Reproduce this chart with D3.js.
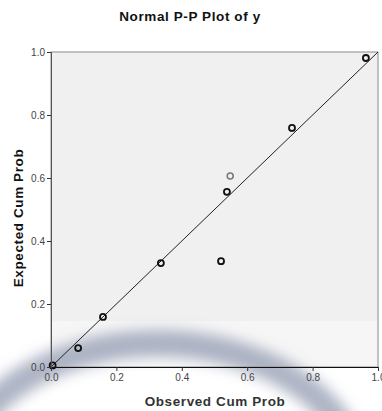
<!DOCTYPE html>
<html>
<head>
<meta charset="utf-8">
<script src="https://cdn.jsdelivr.net/npm/d3@7"></script>
<style>
  body { margin: 0; background: #fff; }
  text { font-family: "Liberation Sans", Arial, sans-serif; }
</style>
</head>
<body>
<div id="chart"></div>
<script>
// observed vs expected cumulative probabilities
var observed = [0.005, 0.083, 0.159, 0.336, 0.52, 0.538, 0.737, 0.963];
var expected = [0.005, 0.060, 0.159, 0.330, 0.336, 0.556, 0.759, 0.981];
// grey (highlighted) point
var greyObserved = [0.548];
var greyExpected = [0.606];
var tickValues = [0, 0.2, 0.4, 0.6, 0.8, 1.0];

var width = 382, height = 411;
var plotLeft = 51, plotRight = 378, plotTop = 52, plotBottom = 367;

var svg = d3.select('#chart').append('svg')
  .attr('width', width)
  .attr('height', height);

var defs = svg.append('defs');
defs.append('filter').attr('id', 'blur')
  .attr('x', '-20%').attr('y', '-20%').attr('width', '140%').attr('height', '140%')
  .append('feGaussianBlur').attr('stdDeviation', 7);

var x = d3.scaleLinear().domain([0, 1]).range([plotLeft, plotRight]);
var y = d3.scaleLinear().domain([0, 1]).range([plotBottom, plotTop]);

// plot background
svg.append('rect')
  .attr('x', plotLeft).attr('y', plotTop)
  .attr('width', plotRight - plotLeft).attr('height', plotBottom - plotTop)
  .attr('fill', '#f0f0f0');

// faint watermark swoosh from the source image
svg.append('rect')
  .attr('x', plotLeft).attr('y', 321)
  .attr('width', plotRight - plotLeft).attr('height', plotBottom - 321)
  .attr('fill', '#fff').attr('opacity', 0.4);
svg.append('ellipse')
  .attr('cx', 158).attr('cy', 482).attr('rx', 200).attr('ry', 138)
  .attr('fill', '#fff').attr('fill-opacity', 0.7)
  .attr('stroke', '#8a94ad').attr('stroke-opacity', 0.7)
  .attr('stroke-width', 28)
  .attr('filter', 'url(#blur)');

svg.append('rect')
  .attr('x', plotLeft).attr('y', plotTop)
  .attr('width', plotRight - plotLeft).attr('height', plotBottom - plotTop)
  .attr('fill', 'none')
  .attr('stroke', '#8a8a8a');

// reference line
svg.append('line')
  .attr('x1', x(0)).attr('y1', y(0))
  .attr('x2', x(1)).attr('y2', y(1))
  .attr('stroke', '#222').attr('stroke-width', 1);

var pts = observed.map(function (d, i) { return { o: d, e: expected[i] }; });
svg.selectAll('circle.pt')
  .data(pts)
  .enter()
  .append('circle')
  .attr('class', 'pt')
  .attr('cx', function (d) { return x(d.o); })
  .attr('cy', function (d) { return y(d.e); })
  .attr('r', 3)
  .attr('fill', 'none')
  .attr('stroke', '#111')
  .attr('stroke-width', 1.8);

svg.selectAll('circle.grey')
  .data(greyObserved.map(function (d, i) { return { o: d, e: greyExpected[i] }; }))
  .enter()
  .append('circle')
  .attr('class', 'grey')
  .attr('cx', function (d) { return x(d.o); })
  .attr('cy', function (d) { return y(d.e); })
  .attr('r', 3)
  .attr('fill', 'none')
  .attr('stroke', '#777')
  .attr('stroke-width', 1.5);

var xAxis = svg.append('g')
  .attr('transform', 'translate(0,' + plotBottom + ')')
  .call(d3.axisBottom(x).tickValues(tickValues).tickFormat(d3.format('.1f')).tickSize(4).tickPadding(3));
var yAxis = svg.append('g')
  .attr('transform', 'translate(' + plotLeft + ',0)')
  .call(d3.axisLeft(y).tickValues(tickValues).tickFormat(d3.format('.1f')).tickSize(4).tickPadding(2));

yAxis.select('.domain').attr('stroke', '#555');
xAxis.select('.domain').attr('stroke', '#111');
[xAxis, yAxis].forEach(function (a) {
  a.selectAll('.tick line').attr('stroke', '#333');
  a.selectAll('.tick text').attr('fill', '#444').style('font-size', '10px')
    .style('font-family', '"Liberation Sans", Arial, sans-serif');
});

function title(sel) {
  return sel.attr('text-anchor', 'middle')
    .style('font-size', '13.5px').style('font-weight', 'bold')
    .style('letter-spacing', '0.6px');
}

title(svg.append('text'))
  .attr('x', 190).attr('y', 21)
  .attr('fill', '#111')
  .text('Normal P-P Plot of y');

title(svg.append('text'))
  .attr('x', 215).attr('y', 406)
  .attr('fill', '#333')
  .text('Observed Cum Prob');

title(svg.append('text'))
  .attr('transform', 'translate(23,218) rotate(-90)')
  .attr('fill', '#111')
  .text('Expected Cum Prob');
</script>
</body>
</html>
